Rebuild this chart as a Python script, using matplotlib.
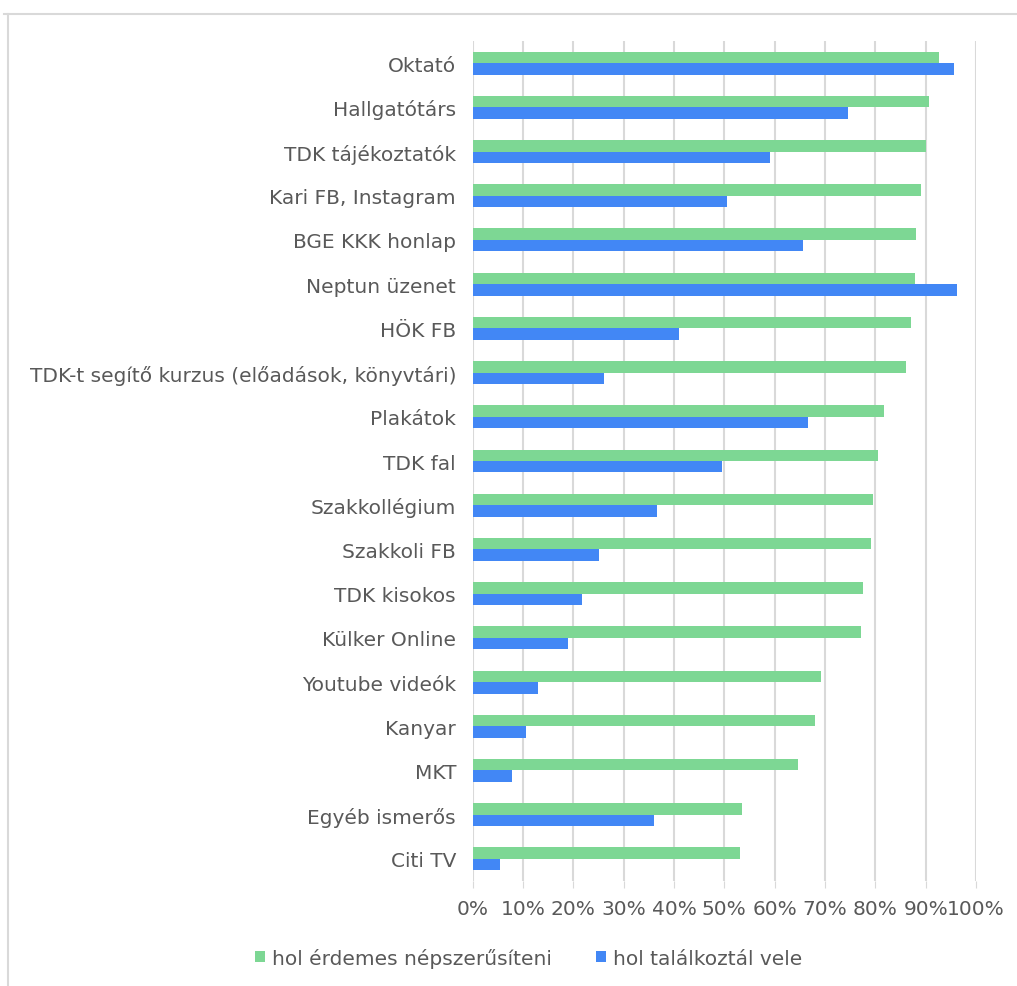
import matplotlib.pyplot as plt
import numpy as np
from matplotlib.lines import Line2D
from matplotlib.ticker import PercentFormatter

plt.rcParams['font.family'] = ['DejaVu Sans']

categories = ['Oktató', 'Hallgatótárs', 'TDK tájékoztatók', 'Kari FB, Instagram',
              'BGE KKK honlap', 'Neptun üzenet', 'HÖK FB',
              'TDK-t segítő kurzus (előadások, könyvtári)', 'Plakátok', 'TDK fal',
              'Szakkollégium', 'Szakkoli FB', 'TDK kisokos', 'Külker Online',
              'Youtube videók', 'Kanyar', 'MKT', 'Egyéb ismerős', 'Citi TV']
erdemes = [92.6, 90.7, 90.1, 89.1, 88.1, 87.9, 87.0, 86.0, 81.7, 80.5,
           79.6, 79.1, 77.6, 77.1, 69.2, 68.0, 64.6, 53.6, 53.1]
talalkoztal = [95.7, 74.5, 59.1, 50.5, 65.6, 96.2, 41.0, 26.1, 66.6, 49.5,
               36.6, 25.0, 21.7, 19.0, 13.0, 10.5, 7.9, 36.1, 5.5]
series_names = ['hol érdemes népszerűsíteni', 'hol találkoztál vele']

green = '#7dd794'
blue = '#4287f5'
text_col = '#595959'
grid_col = '#d9d9d9'
fs = 14.5

fig = plt.figure(figsize=(10.17, 9.87), dpi=100)
ax = fig.add_axes([472.7 / 1017, 1 - 882 / 987, (976 - 472.7) / 1017, (882 - 42) / 987])

y = np.arange(len(categories))
h = 0.26
ax.barh(y - h / 2, erdemes, height=h, color=green, label=series_names[0], zorder=3)
ax.barh(y + h / 2, talalkoztal, height=h, color=blue, label=series_names[1], zorder=3)

ax.set_ylim(len(categories) - 0.5, -0.5)
ax.set_xlim(0, 100)
ax.set_yticks(y)
ax.set_yticklabels(categories, fontsize=fs, color=text_col)
ax.set_xticks(np.arange(0, 101, 10))
ax.xaxis.set_major_formatter(PercentFormatter(decimals=0))
ax.tick_params(axis='x', labelsize=fs, labelcolor=text_col, length=5, color=grid_col, pad=8)
ax.tick_params(axis='y', length=0, pad=12)
ax.grid(axis='x', color=grid_col, linewidth=1.5, zorder=0)
for s in ax.spines.values():
    s.set_visible(False)

fig.legend(loc='lower center', bbox_to_anchor=(0.52, 0.0), ncol=2, frameon=False,
           fontsize=fs, labelcolor=text_col, handlelength=0.5, handleheight=0.5,
           handletextpad=0.35, columnspacing=2.2)

# outer frame (top and left edges only)
fig.add_artist(Line2D([4 / 1017, 1], [1 - 15 / 987] * 2, color=grid_col, linewidth=1.5))
fig.add_artist(Line2D([8 / 1017] * 2, [0, 1 - 15 / 987], color=grid_col, linewidth=1.5))

fig.savefig('out.png', dpi=100, facecolor='white')
